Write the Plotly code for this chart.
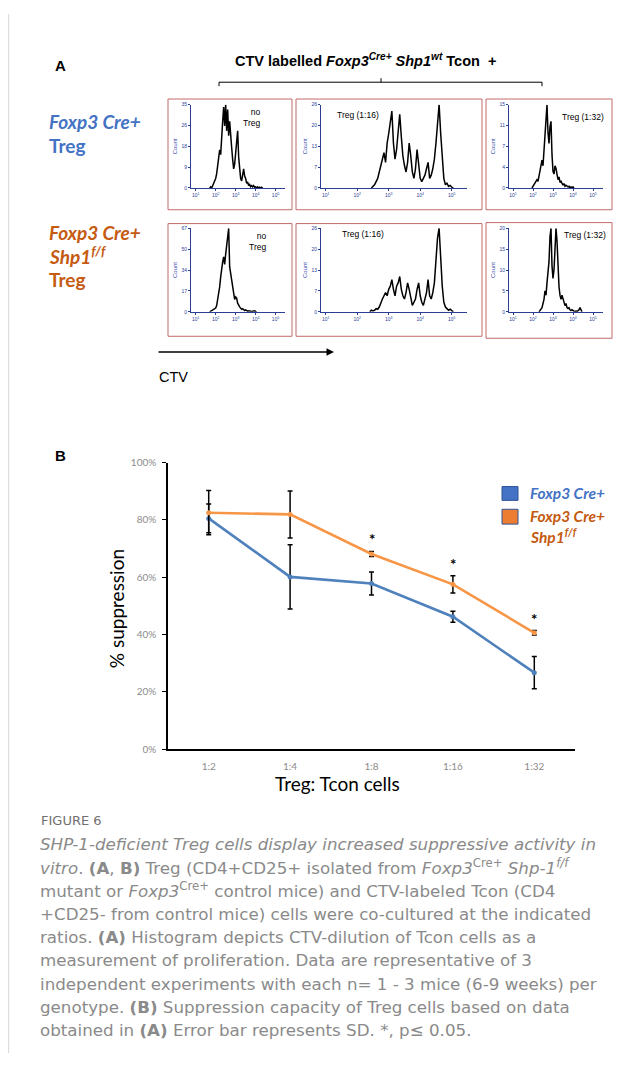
import plotly.graph_objects as go

# ---------------- Panel A : CTV histograms (log10 CTV bins, counts) ----------------
bin_width = 0.05
top_notreg_start = 1.70
top_notreg = [0, 0.5, 0, 1, 1.5, 2.5, 4, 6, 9, 11, 16, 14, 24, 28, 34, 26, 35, 24, 33, 22,
              28, 20, 17, 12, 8, 10, 14, 18, 24, 13, 8, 4, 3, 5, 8, 5, 4, 2, 2.5, 1,
              1.5, 0.5, 1, 0.5, 1, 0.3, 0.5, 0, 0.5, 0, 0.3, 0, 0.3, 0]
top_116_start = 2.45
top_116 = [0, 0.5, 1, 2, 3, 5, 7, 9, 11, 8, 14, 17, 20, 24, 14, 9, 12, 19, 23, 16,
           10, 7, 5, 8, 14, 10, 5, 3, 6, 12, 7, 3, 2, 3, 4, 6, 8, 3, 4, 6,
           9, 14, 21, 26, 17, 9, 3, 1, 1.5, 0.5, 0.8, 0.3, 0]
top_132_start = 1.95
top_132 = [0, 0.3, 0.5, 0.8, 1, 1.5, 1.2, 2, 3, 4, 5, 4, 7, 9, 13, 15, 10, 8, 11, 12,
           6, 3, 2.5, 4, 3.5, 2, 1.5, 2, 1, 1.2, 0.8, 0.5, 0.8, 0.3, 0.5, 0.3, 0.2, 0.3, 0, 0.2,
           0, 0.2, 0]
bot_notreg_start = 1.70
bot_notreg = [0, 0.5, 0.5, 1, 1.5, 2, 3, 5, 9, 14, 20, 28, 36, 40, 44, 38, 46, 52, 60, 67,
              36, 30, 24, 19, 14, 10, 12, 11, 7, 5, 4, 3, 2, 2.5, 1.5, 1, 1.5, 0.8, 0.5, 0.8,
              0.3, 0.5, 0.3, 0.5, 0.3, 0.8, 0.3, 0]
bot_116_start = 2.40
bot_116 = [0, 0.5, 0.3, 0.5, 1, 0.8, 1.5, 3, 4, 5, 6, 5, 7, 8, 10, 7, 5, 8, 9, 11,
           7, 5, 4, 6, 9, 7, 4, 2, 3, 4, 7, 9, 5, 3, 2, 4, 6, 10, 5, 4,
           6, 9, 17, 23, 26, 15, 8, 3, 1.5, 1, 0.5, 0.8, 0.3, 0]
bot_132_start = 2.30
bot_132 = [0, 0.3, 0.5, 1, 2, 3, 5, 4, 7, 9, 12, 18, 20, 11, 8, 10, 15, 20, 17, 10,
           6, 4, 3, 4, 3, 2, 1.5, 2, 1, 0.8, 1, 0.5, 0.3, 0.5, 0.3, 0.2, 0, 0.2, 0, 0.3,
           0.5, 1, 0.3, 0]

hist_ymax = [35, 26, 15, 67, 26, 20]
hist_yticktext = [["0", "9", "18", "26", "35"], ["0", "7", "13", "20", "26"], ["0", "4", "7", "11", "15"],
                  ["0", "17", "34", "50", "67"], ["0", "7", "13", "20", "26"], ["0", "5", "10", "15", "20"]]
hist_labels = ["no<br>Treg", "Treg (1:16)", "Treg (1:32)", "no<br>Treg", "Treg (1:16)", "Treg (1:32)"]
decade_ticks = [1, 2, 3, 4, 5]
decade_text = ["10<sup>1</sup>", "10<sup>2</sup>", "10<sup>3</sup>", "10<sup>4</sup>", "10<sup>5</sup>"]

# ---------------- Panel B : suppression ----------------
ratios = ["1:2", "1:4", "1:8", "1:16", "1:32"]
ctrl_mean = [0.805, 0.601, 0.578, 0.462, 0.267]
ctrl_sd = [0.050, 0.112, 0.040, 0.019, 0.056]
mut_mean = [0.825, 0.819, 0.681, 0.575, 0.406]
mut_sd = [0.077, 0.082, 0.009, 0.030, 0.008]
significant = [False, False, True, True, True]
y_ticks = [0, 0.2, 0.4, 0.6, 0.8, 1.0]

# page is 642x1067; the HTML body adds an 8px margin around the figure
PAGE_W, PAGE_H, BODY = 642, 1067, 8
W, H = PAGE_W - 2 * BODY, PAGE_H - 2 * BODY
def px(x): return (x - BODY) / W
def py(y): return 1 - (y - BODY) / H

NAVY = "#2c3d96"
BLUE = "#4472C4"
ORANGE_TXT = "#C55A11"
LINE_BLUE = "#4F81BD"
LINE_ORANGE = "#F79646"
BOX = "#c46a6a"

fig = go.Figure()

hists = [(top_notreg_start, top_notreg), (top_116_start, top_116), (top_132_start, top_132),
         (bot_notreg_start, bot_notreg), (bot_116_start, bot_116), (bot_132_start, bot_132)]
xdoms = [(191, 285), (321, 466.5), (509, 603)]
xranges = [(0.765, 5.47), (0.85, 5.47), (0.8, 5.5)]
ydoms = [(184, 99.7), (309.3, 224.7)]
boxes = [[(168, 94, 292, 206), (296, 94, 482, 206), (486, 94, 612, 206)],
         [(168, 220, 292, 334), (296, 220, 482, 334), (486, 219, 612, 336)]]
label_pos = [[(262, 113, "right"), (358, 110, "center"), (582.5, 111.7, "center")],
             [(267.5, 238, "right"), (363, 230.7, "center"), (585, 231.7, "center")]]

layout = {}
shapes = []
annotations = []
for i, (start, counts) in enumerate(hists):
    k = i + 1
    r, c = divmod(i, 3)
    fig.add_trace(go.Scatter(x0=start, dx=bin_width, y=counts, mode="lines",
                             line=dict(color="black", width=1.5), xaxis=f"x{k}", yaxis=f"y{k}",
                             showlegend=False, hoverinfo="skip"))
    ymax = hist_ymax[i]
    layout[f"xaxis{k}"] = dict(domain=[px(xdoms[c][0]), px(xdoms[c][1])], range=list(xranges[c]),
                               anchor=f"y{k}", showgrid=False, zeroline=False, showline=True,
                               linecolor=NAVY, linewidth=1, ticks="outside", ticklen=2, tickcolor=NAVY,
                               tickvals=decade_ticks, ticktext=decade_text,
                               tickfont=dict(size=5, color=NAVY, family="Arial"))
    layout[f"yaxis{k}"] = dict(domain=[py(ydoms[r][0]), py(ydoms[r][1])], range=[0, ymax],
                               anchor=f"x{k}", showgrid=False, zeroline=False, showline=True,
                               linecolor=NAVY, linewidth=1, ticks="outside", ticklen=2, tickcolor=NAVY,
                               tickvals=[ymax * f for f in (0, 0.25, 0.5, 0.75, 1)],
                               ticktext=hist_yticktext[i],
                               tickfont=dict(size=5, color=NAVY, family="Arial"))
    x0b, y0b, x1b, y1b = boxes[r][c]
    shapes.append(dict(type="rect", xref="paper", yref="paper", x0=px(x0b), x1=px(x1b),
                       y0=py(y1b), y1=py(y0b), line=dict(color=BOX, width=1)))
    lx, ly, al = label_pos[r][c]
    annotations.append(dict(xref="paper", yref="paper", x=px(lx), y=py(ly), text=hist_labels[i],
                            showarrow=False, xanchor=al, yanchor="middle", align=al,
                            font=dict(size=8.5, color="black", family="Arial")))
    cy = (ydoms[r][0] + ydoms[r][1]) / 2
    cxp = xdoms[c][0] - 16
    annotations.append(dict(xref="paper", yref="paper", x=px(cxp), y=py(cy), text="Count",
                            showarrow=False, textangle=-90, xanchor="center", yanchor="middle",
                            font=dict(size=6, color="#3a4cb0", family="Arial")))

# Panel B traces
fig.add_trace(go.Scatter(x=ratios, y=ctrl_mean, mode="lines+markers", name="Foxp3 Cre+",
                         line=dict(color=LINE_BLUE, width=2.6), marker=dict(size=5, color=LINE_BLUE),
                         error_y=dict(type="data", array=ctrl_sd, color="black", thickness=1.5, width=2.5),
                         xaxis="x7", yaxis="y7", showlegend=False))
fig.add_trace(go.Scatter(x=ratios, y=mut_mean, mode="lines+markers", name="Foxp3 Cre+ Shp1f/f",
                         line=dict(color=LINE_ORANGE, width=2.6), marker=dict(size=5, color=LINE_ORANGE),
                         error_y=dict(type="data", array=mut_sd, color="black", thickness=1.5, width=2.5),
                         xaxis="x7", yaxis="y7", showlegend=False))

layout["xaxis7"] = dict(domain=[px(168), px(575)], range=[-0.5, 4.5], anchor="y7", type="category",
                        showgrid=False, zeroline=False, showline=True, linecolor="black", linewidth=1.5,
                        ticks="", ticklabelstandoff=7,
                        tickfont=dict(size=10, color="#8c8c8c", family="Lato"))
layout["yaxis7"] = dict(domain=[py(751.7), py(461.7)], range=[0, 1], anchor="x7",
                        showgrid=False, zeroline=False, showline=True, linecolor="black", linewidth=1.5,
                        ticks="outside", ticklen=4, tickcolor="black", tickwidth=1,
                        tickvals=y_ticks, tickformat=".0%", ticklabelstandoff=4,
                        tickfont=dict(size=10, color="#8c8c8c", family="Lato"))

for i, sig in enumerate(significant):
    if sig:
        annotations.append(dict(xref="x7", yref="y7", x=ratios[i], y=mut_mean[i] + mut_sd[i],
                                text="<b>*</b>", showarrow=False, yanchor="middle", yshift=12,
                                font=dict(size=15, color="black", family="Lato")))

# axis titles panel B
annotations.append(dict(xref="paper", yref="paper", x=px(337), y=py(786), text="Treg: Tcon cells",
                        showarrow=False, xanchor="center", yanchor="middle",
                        font=dict(size=19, color="black", family="Lato")))
annotations.append(dict(xref="paper", yref="paper", x=px(116), y=py(610), text="% suppression",
                        showarrow=False, textangle=-90, xanchor="center", yanchor="middle",
                        font=dict(size=19, color="black", family="Lato")))

# legend (manual)
shapes.append(dict(type="rect", xref="paper", yref="paper", x0=px(502), x1=px(518), y0=py(500), y1=py(486),
                   fillcolor=BLUE, line=dict(color="#2F5597", width=1)))
shapes.append(dict(type="rect", xref="paper", yref="paper", x0=px(502), x1=px(518), y0=py(524), y1=py(509),
                   fillcolor="#ED7D31", line=dict(color="#2F5597", width=1)))
annotations.append(dict(xref="paper", yref="paper", x=px(528), y=py(493), text="<b><i>Foxp3 Cre+</i></b>",
                        showarrow=False, xanchor="left", yanchor="middle",
                        font=dict(size=15.5, color=BLUE, family="Lato")))
annotations.append(dict(xref="paper", yref="paper", x=px(528), y=py(516), text="<b><i>Foxp3 Cre+</i></b>",
                        showarrow=False, xanchor="left", yanchor="middle",
                        font=dict(size=15.5, color=ORANGE_TXT, family="Lato")))
annotations.append(dict(xref="paper", yref="paper", x=px(528), y=py(536), text="<b><i>Shp1<sup>f/f</sup></i></b>",
                        showarrow=False, xanchor="left", yanchor="middle",
                        font=dict(size=15.5, color=ORANGE_TXT, family="Lato")))

# Panel labels & titles
annotations.append(dict(xref="paper", yref="paper", x=px(60), y=py(60), text="<b>A</b>", showarrow=False,
                        xanchor="center", yanchor="middle", font=dict(size=15, color="black", family="Arial")))
annotations.append(dict(xref="paper", yref="paper", x=px(60), y=py(455), text="<b>B</b>", showarrow=False,
                        xanchor="center", yanchor="middle", font=dict(size=15, color="black", family="Arial")))
annotations.append(dict(xref="paper", yref="paper", x=px(365), y=py(55),
                        text="<b>CTV labelled <i>Foxp3</i><sup><i>Cre+</i></sup> <i>Shp1</i><sup><i>wt</i></sup> Tcon  +</b>",
                        showarrow=False, xanchor="center", yanchor="middle",
                        font=dict(size=14.5, color="black", family="Arial")))
# bracket
for (xa, ya, xb, yb) in [(219, 77, 542, 77), (219, 77, 219, 81), (542, 77, 542, 81), (381, 77, 381, 73)]:
    shapes.append(dict(type="line", xref="paper", yref="paper", x0=px(xa), y0=py(ya), x1=px(xb), y1=py(yb),
                       line=dict(color="black", width=1)))

# row labels
row_labels = [(117, "<b><i>Foxp3 Cre+</i></b>", BLUE), (141, "<b>Treg</b>", BLUE),
              (229, "<b><i>Foxp3 Cre+</i></b>", ORANGE_TXT), (252, "<b><i>Shp1<sup>f/f</sup></i></b>", ORANGE_TXT),
              (277, "<b>Treg</b>", ORANGE_TXT)]
for yy, t, col in row_labels:
    annotations.append(dict(xref="paper", yref="paper", x=px(47), y=py(yy), text=t, showarrow=False,
                            xanchor="left", yanchor="middle", font=dict(size=19, color=col, family="Lato")))

# CTV arrow
annotations.append(dict(xref="paper", yref="paper", x=px(334), y=py(350), ax=-177, ay=0, text="",
                        showarrow=True, arrowhead=2, arrowsize=1, arrowwidth=1.5, arrowcolor="black"))
annotations.append(dict(xref="paper", yref="paper", x=px(157), y=py(375), text="CTV", showarrow=False,
                        xanchor="left", yanchor="middle", font=dict(size=14.5, color="black", family="Arial")))

# left page rule
shapes.append(dict(type="line", xref="paper", yref="paper", x0=0.001, x1=0.001, y0=0, y1=1,
                   line=dict(color="#d9d9d9", width=1)))

# caption
CAP = "#8a8a8a"
annotations.append(dict(xref="paper", yref="paper", x=px(39), y=py(824), text="FIGURE 6", showarrow=False,
                        xanchor="left", yanchor="middle", font=dict(size=13, color="#707070", family="DejaVu Sans")))
caption_lines = [
    "<i>SHP-1-deficient Treg cells display increased suppressive activity in</i>",
    "<i>vitro</i>. <b>(A</b>, <b>B)</b> Treg (CD4+CD25+ isolated from <i>Foxp3</i><sup>Cre+</sup> <i>Shp-1</i><sup><i>f/f</i></sup>",
    "mutant or <i>Foxp3</i><sup>Cre+</sup> control mice) and CTV-labeled Tcon (CD4",
    "+CD25- from control mice) cells were co-cultured at the indicated",
    "ratios. <b>(A)</b> Histogram depicts CTV-dilution of Tcon cells as a",
    "measurement of proliferation. Data are representative of 3",
    "independent experiments with each n= 1 - 3 mice (6-9 weeks) per",
    "genotype. <b>(B)</b> Suppression capacity of Treg cells based on data",
    "obtained in <b>(A)</b> Error bar represents SD. *, p≤ 0.05.",
]
cap_y = [847.5, 871, 894.5, 918, 941.5, 965, 988.7, 1012.3, 1036]
for yy, t in zip(cap_y, caption_lines):
    annotations.append(dict(xref="paper", yref="paper", x=px(38), y=py(yy), text=t, showarrow=False,
                            xanchor="left", yanchor="middle", font=dict(size=16.7, color=CAP, family="DejaVu Sans")))

fig.update_layout(width=W, height=H, margin=dict(l=0, r=0, t=0, b=0), paper_bgcolor="white",
                  plot_bgcolor="rgba(0,0,0,0)", shapes=shapes, annotations=annotations, **layout)

fig.write_html("out.html")
